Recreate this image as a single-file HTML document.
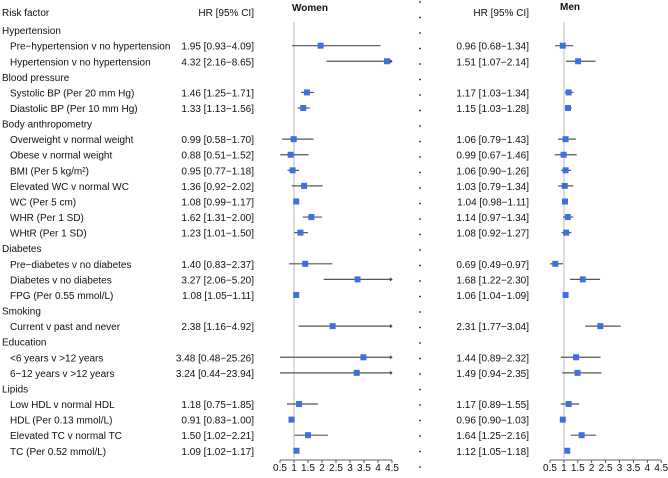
<!DOCTYPE html>
<html><head><meta charset="utf-8"><style>
body{margin:0;background:#fff;}
svg text{font-family:"Liberation Sans",sans-serif;font-size:10px;fill:#111;}
</style></head><body>
<svg id="c" width="668" height="473"></svg>
<script>
const labels=["Hypertension","Pre\u2212hypertension v no hypertension","Hypertension v no hypertension","Blood pressure","Systolic BP (Per 20 mm Hg)","Diastolic BP (Per 10 mm Hg)","Body anthropometry","Overweight v normal weight","Obese v normal weight","BMI (Per 5 kg/m²)","Elevated WC v normal WC","WC (Per 5 cm)","WHR (Per 1 SD)","WHtR (Per 1 SD)","Diabetes","Pre\u2212diabetes v no diabetes","Diabetes v no diabetes","FPG (Per 0.55 mmol/L)","Smoking","Current v past and never","Education","<6 years v >12 years","6\u221212 years v >12 years","Lipids","Low HDL v normal HDL","HDL (Per 0.13 mmol/L)","Elevated TC v normal TC","TC (Per 0.52 mmol/L)"];
const isGroup=[1,0,0,1,0,0,1,0,0,0,0,0,0,0,1,0,0,0,1,0,1,0,0,1,0,0,0,0];
const womenHR=[null,1.95,4.32,null,1.46,1.33,null,0.99,0.88,0.95,1.36,1.08,1.62,1.23,null,1.40,3.27,1.08,null,2.38,null,3.48,3.24,null,1.18,0.91,1.50,1.09];
const womenLo=[null,0.93,2.16,null,1.25,1.13,null,0.58,0.51,0.77,0.92,0.99,1.31,1.01,null,0.83,2.06,1.05,null,1.16,null,0.48,0.44,null,0.75,0.83,1.02,1.02];
const womenHi=[null,4.09,8.65,null,1.71,1.56,null,1.70,1.52,1.18,2.02,1.17,2.00,1.50,null,2.37,5.20,1.11,null,4.92,null,25.26,23.94,null,1.85,1.00,2.21,1.17];
const menHR=[null,0.96,1.51,null,1.17,1.15,null,1.06,0.99,1.06,1.03,1.04,1.14,1.08,null,0.69,1.68,1.06,null,2.31,null,1.44,1.49,null,1.17,0.96,1.64,1.12];
const menLo=[null,0.68,1.07,null,1.03,1.03,null,0.79,0.67,0.90,0.79,0.98,0.97,0.92,null,0.49,1.22,1.04,null,1.77,null,0.89,0.94,null,0.89,0.90,1.25,1.05];
const menHi=[null,1.34,2.14,null,1.34,1.28,null,1.43,1.46,1.26,1.34,1.11,1.34,1.27,null,0.97,2.30,1.09,null,3.04,null,2.32,2.35,null,1.55,1.03,2.16,1.18];
const ticks=[0.5,1,1.5,2,2.5,3,3.5,4,4.5];
const svg=document.getElementById('c');const NS='http://www.w3.org/2000/svg';
function mk(t,a,p){const e=document.createElementNS(NS,t);for(const k in a)e.setAttribute(k,a[k]);(p||svg).appendChild(e);return e;}
const rowY=i=>30.1+15.58*i;
const xW=v=>280+(v-0.5)*28, xM=v=>550+(v-0.5)*27.8;
const fmt=(h,l,u)=>h.toFixed(2)+" ["+l.toFixed(2)+"\u2212"+u.toFixed(2)+"]";
let t=mk('text',{x:2,y:16});t.textContent="Risk factor";

[[254,'women-hr-header'],[529,'men-hr-header']].forEach(([x,n])=>{const e=mk('text',{x:x,y:16,'text-anchor':'end'});e.textContent="HR [95% CI]";
});
t=mk('text',{x:292,y:11,'font-weight':'bold'});t.textContent="Women";
t=mk('text',{x:560,y:10,'font-weight':'bold'});t.textContent="Men";
for(let y=2;y<473;y+=15.5){const d=mk('circle',{cx:420,cy:y,r:0.9,fill:'#222'});}
[[xW,'women'],[xM,'men']].forEach(([X,n])=>{
 const r=mk('line',{x1:X(1),x2:X(1),y1:22,y2:458,stroke:'#ddd','stroke-width':2});
 const a=mk('line',{x1:X(0.5),x2:X(4.5),y1:460,y2:460,stroke:'#333','stroke-width':0.8});
 ticks.forEach(v=>{const tk=mk('line',{x1:X(v),x2:X(v),y1:460,y2:463,stroke:'#333','stroke-width':0.8});
  const tl=mk('text',{x:X(v),y:471,'text-anchor':'middle','font-size':'7.5px'});tl.textContent=v;});
});
labels.forEach((l,i)=>{const y=rowY(i)+4;
 const e=mk('text',{x:isGroup[i]?2:10,y:y});e.textContent=l;
 if(isGroup[i])return;
 [[xW,womenHR,womenLo,womenHi,254,'women'],[xM,menHR,menLo,menHi,529,'men']].forEach(([X,H,L,U,tx,n])=>{
  const v=mk('text',{x:tx,y:y,'text-anchor':'end'});v.textContent=fmt(H[i],L[i],U[i]);
  const lo=Math.max(L[i],0.5),hi=Math.min(U[i],4.5),yy=rowY(i);
  const ln=mk('line',{x1:X(lo),x2:X(hi),y1:yy,y2:yy,stroke:'#555','stroke-width':1.2});
  if(U[i]>4.5){const ar=mk('path',{d:`M${X(4.5)-2},${yy-1.5}L${X(4.5)},${yy}L${X(4.5)-2},${yy+1.5}`,stroke:'#333',fill:'none','stroke-width':0.8});}
  const pt=mk('rect',{x:X(H[i])-3,y:yy-3,width:6,height:6,fill:'#3f6fe2'});
 });
});
</script></body></html>
